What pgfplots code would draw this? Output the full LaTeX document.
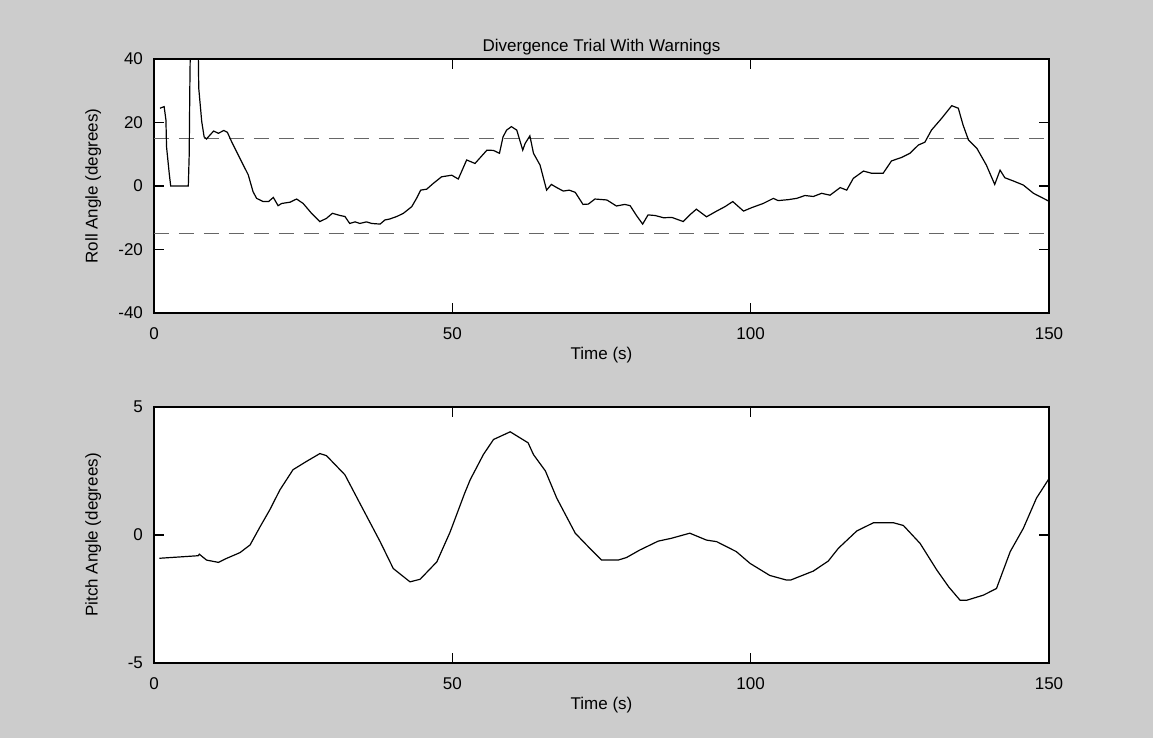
\documentclass[border=0pt]{standalone}
\usepackage{fontspec}
\setmainfont{Liberation Sans}
\usepackage{pgfplots}
\pgfplotsset{compat=1.18}
\definecolor{figbg}{gray}{0.8}

% 1 px of the reference = 0.5pt
\pgfplotsset{matlab/.style={
    scale only axis,
    width=447.5pt,
    xmin=0, xmax=150,
    xtick={0,50,100,150},
    tick align=inside,
    tick pos=both,
    major tick length=5pt,
    axis background/.style={fill=white},
    axis line style={line width=0.7pt},
    every tick/.style={black, line width=0.7pt},
    ticklabel style={font=\fontsize{8.5}{10}\selectfont},
    xticklabel style={yshift=-4pt},
    yticklabel style={xshift=-2pt},
    label style={font=\fontsize{8.5}{10}\selectfont},
    /pgf/number format/assume math mode=true,
    xlabel={Time (s)},
    xlabel style={at={(axis description cs:0.5,-0.165)}, anchor=center},
    ylabel style={at={(axis description cs:-0.068,0.5)}, anchor=center},
}}

\begin{document}
\begin{tikzpicture}
\fill[figbg] (0,0) rectangle (576.5pt,369pt);

% roll
\begin{axis}[matlab,
    at={(77pt,212.5pt)}, anchor=south west,
    height=127pt,
    ymin=-40, ymax=40,
    ytick={-40,-20,0,20,40},
    ylabel={Roll Angle (degrees)},
    title={Divergence Trial With Warnings},
    title style={font=\fontsize{8.5}{10}\selectfont, at={(axis description cs:0.5,1)}, anchor=south, yshift=-7.5pt},
]
\addplot[black!60, line width=0.6pt, dash pattern=on 7.5pt off 5pt] coordinates {(0,15) (150,15)};
\addplot[black!60, line width=0.6pt, dash pattern=on 7.5pt off 5pt] coordinates {(0,-15) (150,-15)};
\addplot[black, line width=0.6pt] coordinates {
(1.0,24.5) (1.7,25.0) (2.0,20.8) (2.1,12.4) (2.55,4.0) (2.8,0) (5.75,0) (5.9,9.8) (6.0,30.2) (6.2,60) (7.3,60) (7.5,30.8)
(8.0,20.3) (8.4,15.5) (8.8,14.8) (9.4,16.1) (10.0,17.3) (10.8,16.6) (11.7,17.5) (12.3,16.9) (13.0,14.0) (14.4,8.7)
(15.8,3.5) (16.6,-1.8) (17.2,-3.9) (18.3,-4.9) (19.2,-4.9) (20.0,-3.6) (20.8,-6.2) (21.4,-5.5) (22.8,-5.1) (23.9,-4.1)
(25.0,-5.5) (26.4,-8.6) (27.8,-11.2) (28.9,-10.2) (29.9,-8.6) (31.2,-9.3) (32.0,-9.6) (32.8,-11.8) (33.7,-11.3)
(34.5,-11.8) (35.6,-11.3) (36.5,-11.8) (37.9,-12.0) (38.7,-10.7) (39.5,-10.4) (40.7,-9.6) (41.8,-8.6) (43.2,-6.5)
(44.0,-3.9) (44.7,-1.3) (45.7,-1.0) (46.8,0.8) (48.2,2.9) (49.9,3.4) (51.0,2.2) (52.4,8.2) (53.8,7.1) (55.8,11.3)
(56.9,11.2) (57.9,10.3) (58.5,15.5) (59.1,17.6) (59.9,18.7) (60.8,17.6) (61.8,11.3) (62.2,13.4) (63.0,15.8) (63.6,10.3)
(64.7,6.6) (65.8,-1.3) (66.6,0.5) (67.5,-0.5) (68.6,-1.6) (69.6,-1.3) (70.6,-2.0) (71.9,-5.8) (72.8,-5.7) (73.9,-4.1)
(75.9,-4.4) (77.5,-6.3) (78.9,-5.8) (79.8,-6.2) (80.9,-9.4) (81.9,-12.0) (82.8,-9.1) (84.0,-9.3) (85.4,-10.0)
(86.8,-9.9) (88.7,-11.2) (89.8,-9.1) (90.9,-7.3) (92.6,-9.7) (94.3,-7.9) (95.7,-6.5) (97.0,-4.9) (98.8,-7.9)
(100.2,-6.8) (102.1,-5.5) (103.8,-3.9) (104.6,-4.6) (106.3,-4.3) (107.7,-3.9) (109.1,-3.0) (110.5,-3.3) (111.9,-2.3)
(113.3,-2.9) (115.0,-0.5) (116.1,-1.3) (117.2,2.4) (118.9,4.7) (120.3,4.0) (122.2,4.0) (123.6,7.9) (125.3,9.0)
(126.7,10.3) (128.1,12.9) (129.2,13.8) (130.3,17.6) (132.0,21.3) (133.7,25.3) (134.8,24.5) (135.6,19.2) (136.5,14.5)
(137.9,11.9) (139.5,6.6) (140.9,0.5) (141.8,5.0) (142.6,2.6) (144.0,1.6) (145.7,0.3) (147.4,-2.3) (150,-4.8)
};
\end{axis}

% pitch
\begin{axis}[matlab,
    at={(77pt,37.5pt)}, anchor=south west,
    height=128pt,
    ymin=-5, ymax=5,
    ytick={-5,0,5},
    ylabel={Pitch Angle (degrees)},
]
\addplot[black, line width=0.6pt] coordinates {
(0.9,-0.91) (7.4,-0.81) (7.6,-0.75) (8.8,-0.98) (10.8,-1.07) (12.2,-0.91) (14.4,-0.69) (16.1,-0.39) (17.8,0.33)
(19.4,0.98) (21.1,1.76) (23.3,2.55) (25.6,2.88) (27.8,3.18) (28.9,3.10) (32.0,2.35) (34.5,1.24) (37.9,-0.26)
(40.1,-1.31) (42.9,-1.83) (44.6,-1.73) (47.4,-1.05) (49.6,0.1) (52.1,1.65) (53.0,2.16) (55.2,3.14) (56.9,3.73)
(59.7,4.03) (62.7,3.6) (63.6,3.14) (65.6,2.5) (67.5,1.44) (70.6,0.07) (72.5,-0.39) (75.0,-0.98) (77.8,-0.98)
(79.2,-0.88) (81.4,-0.59) (84.5,-0.24) (86.7,-0.13) (89.8,0.07) (92.6,-0.2) (94.3,-0.26) (97.6,-0.65) (99.9,-1.11)
(103.2,-1.58) (106.0,-1.76) (106.7,-1.76) (110.5,-1.41) (113.0,-1.02) (114.7,-0.52) (117.8,0.16) (120.6,0.48)
(123.9,0.48) (125.6,0.37) (128.4,-0.33) (131.2,-1.37) (133.2,-2.03) (135.1,-2.55) (136.2,-2.55) (139.0,-2.35)
(141.2,-2.09) (143.5,-0.65) (145.7,0.26) (147.9,1.44) (150,2.2)
};
\end{axis}

\pgfresetboundingbox
\path (0,0) rectangle (576.5pt,369pt);
\end{tikzpicture}
\end{document}
